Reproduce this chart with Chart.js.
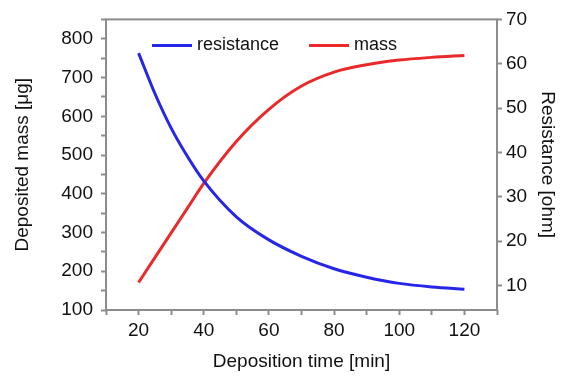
<!DOCTYPE html>
<html>
<head>
<meta charset="utf-8">
<script src="https://cdn.jsdelivr.net/npm/chart.js@4.4.1/dist/chart.umd.min.js"></script>
<style>
  html, body { margin: 0; padding: 0; background: #fff; }
  #wrap { width: 567px; height: 376px; }
</style>
</head>
<body>
<div id="wrap"><canvas id="depositionChart"></canvas></div>
<script>
// values
const times = [20, 25, 30, 35, 40, 50, 60, 70, 80, 90, 100, 110, 120];
const massValues = [171, 235, 299, 363, 427, 535, 618, 678, 714, 733, 745, 752, 757];
const resistanceValues = [62.4, 53.3, 45.5, 39.1, 33.6, 25.5, 20.3, 16.6, 13.8, 11.9, 10.5, 9.7, 9.2];

const timeTicks = [10, 20, 30, 40, 50, 60, 70, 80, 90, 100, 110, 120, 130];
const massTicks = [100, 150, 200, 250, 300, 350, 400, 450, 500, 550, 600, 650, 700, 750, 800, 850];
const resistanceTicks = [10, 20, 30, 40, 50, 60, 70];

const FONT = "'Liberation Sans', Arial, sans-serif";
const AXIS_GRAY = "#8c8c8c";
const TEXT = "#111";
const BLUE = "#2626e8";
const RED = "#ea2a2a";

/* ===== frame round the plot area ===== */
const frame = {
  id: "frame",
  afterDraw(chart) {
    const { ctx, chartArea: a } = chart;
    ctx.save();
    ctx.strokeStyle = AXIS_GRAY;
    ctx.lineWidth = 2;
    ctx.strokeRect(a.left, a.top, a.right - a.left, a.bottom - a.top);
    ctx.restore();
  }
};

/* ===== legend drawn inside the plot, like the original ===== */
const inlineLegend = {
  id: "inlineLegend",
  afterDatasetsDraw(chart) {
    const { ctx, chartArea } = chart;
    let x = chartArea.left + 46;
    const y = chartArea.top + 26;
    ctx.save();
    ctx.font = "18px " + FONT;
    ctx.textBaseline = "middle";
    chart.data.datasets.forEach(ds => {
      ctx.strokeStyle = ds.borderColor;
      ctx.lineWidth = 3;
      ctx.beginPath();
      ctx.moveTo(x, y);
      ctx.lineTo(x + 40, y);
      ctx.stroke();
      ctx.fillStyle = TEXT;
      ctx.fillText(ds.label, x + 45, y);
      x += 45 + ctx.measureText(ds.label).width + 30;
    });
    ctx.restore();
  }
};

function fixedTicks(values) {
  return axis => { axis.ticks = values.map(v => ({ value: v })); };
}

const gridOpts = {
  drawOnChartArea: false,
  drawTicks: true,
  tickLength: 5,
  tickColor: AXIS_GRAY,
  tickWidth: 2
};

const tickFont = { family: FONT, size: 19 };
const titleFont = { family: FONT, size: 19 };

new Chart(document.getElementById("depositionChart"), {
  type: "line",
  data: {
    datasets: [
      {
        label: "resistance",
        data: times.map((t, i) => ({ x: t, y: resistanceValues[i] })),
        borderColor: BLUE,
        borderWidth: 3,
        pointRadius: 0,
        cubicInterpolationMode: "monotone",
        yAxisID: "yRes"
      },
      {
        label: "mass",
        data: times.map((t, i) => ({ x: t, y: massValues[i] })),
        borderColor: RED,
        borderWidth: 3,
        pointRadius: 0,
        cubicInterpolationMode: "monotone",
        yAxisID: "yMass"
      }
    ]
  },
  options: {
    responsive: true,
    maintainAspectRatio: false,
    animation: false,
    layout: { padding: { top: 18, left: 0, right: 0, bottom: 0 } },
    plugins: {
      legend: { display: false },
      tooltip: { enabled: false }
    },
    scales: {
      x: {
        type: "linear",
        min: 10,
        max: 130,
        afterBuildTicks: fixedTicks(timeTicks),
        afterFit(s) { s.height = 66; },
        border: { display: false },
        grid: gridOpts,
        ticks: {
          padding: 4,
          maxRotation: 0,
          minRotation: 0,
          autoSkip: false,
          color: TEXT,
          font: tickFont,
          callback: v => (v % 20 === 0 ? v : "")
        },
        title: {
          display: true,
          text: "Deposition time [min]",
          color: TEXT,
          font: titleFont,
          padding: { top: 0, bottom: 3 }
        }
      },
      yMass: {
        type: "linear",
        position: "left",
        min: 100,
        max: 850,
        afterBuildTicks: fixedTicks(massTicks),
        afterFit(s) { s.width = 106; },
        border: { display: false },
        grid: gridOpts,
        ticks: {
          padding: 8,
          autoSkip: false,
          color: TEXT,
          font: tickFont,
          callback: v => (v % 100 === 0 && v <= 800 ? v : "")
        },
        title: {
          display: true,
          text: "Deposited mass [μg]",
          color: TEXT,
          font: titleFont,
          padding: { top: 11, bottom: 0 }
        }
      },
      yRes: {
        type: "linear",
        position: "right",
        min: 4.5,
        max: 70,
        afterBuildTicks: fixedTicks(resistanceTicks),
        afterFit(s) { s.width = 70; },
        border: { display: false },
        grid: gridOpts,
        ticks: {
          padding: 4,
          autoSkip: false,
          color: TEXT,
          font: tickFont
        },
        title: {
          display: true,
          text: "Resistance [ohm]",
          color: TEXT,
          font: titleFont,
          padding: { top: 8, bottom: 0 }
        }
      }
    }
  },
  plugins: [frame, inlineLegend]
});
</script>
</body>
</html>
